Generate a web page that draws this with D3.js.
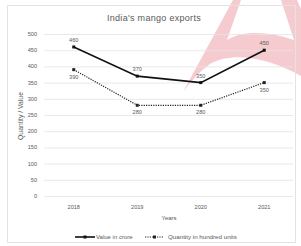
<!DOCTYPE html>
<html>
<head>
<meta charset="utf-8">
<script src="https://cdn.jsdelivr.net/npm/d3@7"></script>
<style>
  body { margin: 0; background: #fff; }
  text { font-family: "Liberation Sans", "DejaVu Sans", sans-serif; fill: #595959; }
</style>
</head>
<body>
<svg id="chart"></svg>
<script>
var width = 301, height = 246;

var years = ["2018", "2019", "2020", "2021"];
var valueCrore = [460, 370, 350, 450];
var quantityHundred = [390, 280, 280, 350];
var yTicks = [0, 50, 100, 150, 200, 250, 300, 350, 400, 450, 500];

var svg = d3.select("#chart")
  .attr("width", width)
  .attr("height", height);

// watermark in the background (pink "A")
svg.append("path")
  .attr("d", "M183,92 L233,0 L301,0 L301,76 C272,60 235,50 210,64 Q196,74 183,92 Z")
  .attr("fill", "#f5cbd0");
svg.append("path")
  .attr("d", "M241,0 L281,0 L294,40 Q272,32 252,33 Q236,34 227,40 Z")
  .attr("fill", "#fff");
svg.append("path")
  .attr("d", "M297,0 L301,0 L301,9 Z")
  .attr("fill", "#fff");

svg.append("rect")
  .attr("x", 7.5).attr("y", 5.5)
  .attr("width", 288).attr("height", 237)
  .attr("fill", "none")
  .attr("stroke", "#e3e3e3");

var x = d3.scaleBand()
  .domain(years)
  .range([42, 296]);

var y = d3.scaleLinear()
  .domain([0, 500])
  .range([196, 34]);

// gridlines
svg.append("g")
  .selectAll("line")
  .data(yTicks)
  .enter().append("line")
  .attr("x1", 44)
  .attr("x2", 293)
  .attr("y1", function (d) { return y(d) + 0.5; })
  .attr("y2", function (d) { return y(d) + 0.5; })
  .attr("stroke", "#e3e3e3")
  .attr("stroke-width", 0.8);

svg.append("g")
  .selectAll("text")
  .data(yTicks)
  .enter().append("text")
  .attr("x", 37)
  .attr("y", function (d) { return y(d) + 2; })
  .attr("text-anchor", "end")
  .attr("font-size", 5.6)
  .text(function (d) { return d; });

svg.append("g")
  .selectAll("text")
  .data(years)
  .enter().append("text")
  .attr("x", function (d) { return x(d) + x.bandwidth() / 2; })
  .attr("y", 209)
  .attr("text-anchor", "middle")
  .attr("font-size", 5.6)
  .text(function (d) { return d; });

svg.append("text")
  .attr("x", 154).attr("y", 21)
  .attr("text-anchor", "middle")
  .attr("font-size", 9)
  .attr("letter-spacing", 0.3)
  .text("India's mango exports");

svg.append("text")
  .attr("x", 169).attr("y", 220)
  .attr("text-anchor", "middle")
  .attr("font-size", 6)
  .text("Years");

svg.append("text")
  .attr("transform", "translate(23,116) rotate(-90)")
  .attr("text-anchor", "middle")
  .attr("font-size", 6.8)
  .text("Quantity / Value");

var line = d3.line()
  .x(function (d, i) { return x(years[i]) + x.bandwidth() / 2; })
  .y(function (d) { return y(d); });

function drawSeries(data, dash, width, color, labelDy) {
  var g = svg.append("g");
  g.append("path")
    .datum(data)
    .attr("d", line)
    .attr("fill", "none")
    .attr("stroke", color)
    .attr("stroke-width", width)
    .attr("stroke-dasharray", dash);
  g.selectAll("rect")
    .data(data)
    .enter().append("rect")
    .attr("x", function (d, i) { return x(years[i]) + x.bandwidth() / 2 - 1.5; })
    .attr("y", function (d) { return y(d) - 1.5; })
    .attr("width", 3).attr("height", 3)
    .attr("fill", color);
  g.selectAll("text")
    .data(data)
    .enter().append("text")
    .attr("x", function (d, i) { return x(years[i]) + x.bandwidth() / 2; })
    .attr("y", function (d) { return y(d) + labelDy; })
    .attr("text-anchor", "middle")
    .attr("font-size", 5.6)
    .text(function (d) { return d; });
}

drawSeries(valueCrore, null, 1.6, "#111", -5);
drawSeries(quantityHundred, "1.2,1.2", 1.2, "#222", 9);

// legend
var leg = svg.append("g").attr("transform", "translate(0,237)");
leg.append("line").attr("x1", 75).attr("x2", 95).attr("y1", 0).attr("y2", 0)
  .attr("stroke", "#111").attr("stroke-width", 1.6);
leg.append("rect").attr("x", 83.5).attr("y", -1.5).attr("width", 3).attr("height", 3).attr("fill", "#111");
leg.append("text").attr("x", 96).attr("y", 2).attr("font-size", 6).text("Value in crore");
leg.append("line").attr("x1", 145).attr("x2", 164).attr("y1", 0).attr("y2", 0)
  .attr("stroke", "#222").attr("stroke-width", 1.2).attr("stroke-dasharray", "1.2,1.2");
leg.append("rect").attr("x", 153).attr("y", -1.5).attr("width", 3).attr("height", 3).attr("fill", "#222");
leg.append("text").attr("x", 168).attr("y", 2).attr("font-size", 6.2).text("Quantity in hundred units");
</script>
</body>
</html>
